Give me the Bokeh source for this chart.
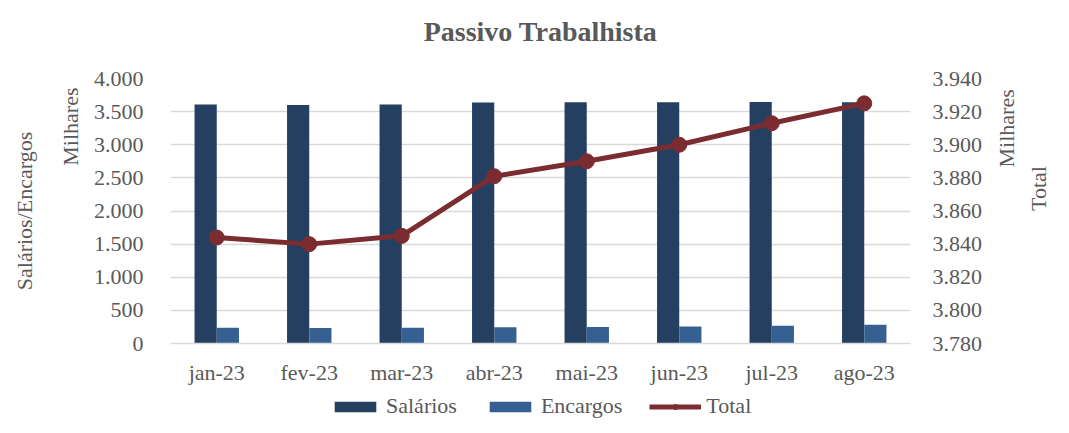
import math
from bokeh.plotting import figure
from bokeh.layouts import column
from bokeh.models import (FactorRange, Range1d, LinearAxis, FixedTicker, Legend,
                          LegendItem, ColumnDataSource, Title)
from bokeh.transform import dodge
from bokeh.embed import file_html
from bokeh.resources import INLINE

# ---- data (values in thousands) ----
meses = ["jan-23", "fev-23", "mar-23", "abr-23", "mai-23", "jun-23", "jul-23", "ago-23"]
salarios = [3607, 3600, 3609, 3636, 3640, 3643, 3646, 3643]
encargos = [237, 233, 236, 245, 250, 257, 267, 282]
total = [3844, 3840, 3845, 3881, 3890, 3900, 3913, 3925]
left_ticks = [0, 500, 1000, 1500, 2000, 2500, 3000, 3500, 4000]
left_tick_labels = ["0", "500", "1.000", "1.500", "2.000", "2.500", "3.000", "3.500", "4.000"]
right_ticks = [3780, 3800, 3820, 3840, 3860, 3880, 3900, 3920, 3940]
right_tick_labels = ["3.780", "3.800", "3.820", "3.840", "3.860", "3.880", "3.900", "3.920", "3.940"]

FONT = "Liberation Serif"
TXT = "#595959"
C_SAL = "#243F60"
C_ENC = "#376092"
C_TOT = "#7B2C31"
GRID = "#D9D9D9"
FS = "22px"

# layout anchors (screen positions of the rotated "Milhares" unit labels)
UNIT_L = 3864
UNIT_R = 2657

src = ColumnDataSource(dict(mes=meses, sal=salarios, enc=encargos, tot=total))

p = figure(x_range=FactorRange(*meses), y_range=Range1d(0, 4000),
           frame_width=740, frame_height=265, title=None,
           min_border_left=170, min_border_right=143,
           min_border_top=78, min_border_bottom=42,
           output_backend="svg", toolbar_location=None,
           background_fill_color="white", border_fill_color="white",
           outline_line_color=None)
p.extra_y_ranges = {"total": Range1d(3780, 3940)}

# title (a blank spacer title sits between the chart title and the plot area)
spacer = Title(text=" ", text_font_size="10px", standoff=18)
main_title = Title(text="Passivo Trabalhista", align="center", vertical_align="middle",
                   text_font=FONT, text_font_size="28px", text_font_style="bold",
                   text_color=TXT, standoff=0)
p.add_layout(spacer, "above")
p.add_layout(main_title, "above")

# bars
p.vbar(x=dodge("mes", -0.12, range=p.x_range), top="sal", width=0.24,
       source=src, fill_color=C_SAL, line_color=None)
p.vbar(x=dodge("mes", 0.12, range=p.x_range), top="enc", width=0.24,
       source=src, fill_color=C_ENC, line_color=None)

# total line
p.line(x="mes", y="tot", source=src, y_range_name="total",
       line_color=C_TOT, line_width=5)
p.scatter(x="mes", y="tot", source=src, y_range_name="total",
          size=15, fill_color=C_TOT, line_color=C_TOT)

def plain(ax):
    ax.axis_line_color = None
    ax.major_tick_line_color = None
    ax.minor_tick_line_color = None
    ax.major_tick_out = 0
    ax.major_tick_in = 0
    ax.minor_tick_out = 0
    ax.minor_tick_in = 0
    ax.major_label_text_font = FONT
    ax.major_label_text_font_size = FS
    ax.major_label_text_color = TXT
    ax.axis_label_text_font = FONT
    ax.axis_label_text_font_size = FS
    ax.axis_label_text_color = TXT
    ax.axis_label_text_font_style = "normal"

# left value axis
yl = p.yaxis[0]
yl.ticker = FixedTicker(ticks=left_ticks)
yl.major_label_overrides = dict(zip(left_ticks, left_tick_labels))
plain(yl)
yl.major_label_standoff = 27

# left unit + title axis ("Milhares" placed as a rotated tick label)
yl2 = LinearAxis(ticker=FixedTicker(ticks=[UNIT_L]),
                 major_label_overrides={UNIT_L: "Milhares"},
                 major_label_orientation=math.pi / 2,
                 axis_label="Salários/Encargos")
plain(yl2)
yl2.major_label_standoff = 20
yl2.axis_label_standoff = 6
p.add_layout(yl2, "left")

# right value axis
yr = LinearAxis(y_range_name="total", ticker=FixedTicker(ticks=right_ticks),
                major_label_overrides=dict(zip(right_ticks, right_tick_labels)))
plain(yr)
yr.major_label_standoff = 22
p.add_layout(yr, "right")

yr2 = LinearAxis(ticker=FixedTicker(ticks=[UNIT_R]),
                 major_label_overrides={UNIT_R: "Milhares"},
                 major_label_orientation=math.pi / 2,
                 axis_label="Total", axis_label_orientation=math.pi / 2)
plain(yr2)
yr2.major_label_standoff = 21
yr2.axis_label_standoff = 4
p.add_layout(yr2, "right")

# category axis
xa = p.xaxis[0]
plain(xa)
xa.axis_line_color = GRID
xa.axis_line_width = 1.5
xa.major_label_standoff = 16

p.xgrid.grid_line_color = None
p.ygrid.grid_line_color = GRID
p.ygrid.grid_line_width = 1.5

# ---- legend strip below the chart (its glyphs lie below its visible range;
#      only the legend swatches are seen) ----
lg = figure(x_range=FactorRange(*meses), y_range=Range1d(6000, 10000),
            width=1053, height=32, min_border=0,
            x_axis_location=None, y_axis_location=None,
            output_backend="svg", toolbar_location=None,
            background_fill_color="white", border_fill_color="white",
            outline_line_color=None)
lg.xgrid.grid_line_color = None
lg.ygrid.grid_line_color = None
l_sal = lg.vbar(x="mes", top="sal", width=0.24, source=src,
                fill_color=C_SAL, line_color=None)
l_enc = lg.vbar(x="mes", top="enc", width=0.24, source=src,
                fill_color=C_ENC, line_color=None)
l_line = lg.line(x="mes", y="tot", source=src, line_color=C_TOT, line_width=5)
l_pts = lg.scatter(x="mes", y="tot", source=src, size=15,
                   fill_color=C_TOT, line_color=C_TOT)

legend = Legend(items=[LegendItem(label="Salários", renderers=[l_sal]),
                       LegendItem(label="Encargos", renderers=[l_enc]),
                       LegendItem(label="Total", renderers=[l_line, l_pts])],
                orientation="horizontal", location=(159, 0),
                glyph_width=52, glyph_height=13, label_standoff=5, spacing=27,
                padding=0, margin=0, border_line_color=None,
                background_fill_alpha=0, label_height=24)
legend.label_text_font = FONT
legend.label_text_font_style = "normal"
legend.label_text_font_size = FS
legend.label_text_color = TXT
lg.add_layout(legend)

layout = column(p, lg, spacing=0)
open("out.html", "w").write(file_html(layout, INLINE))
